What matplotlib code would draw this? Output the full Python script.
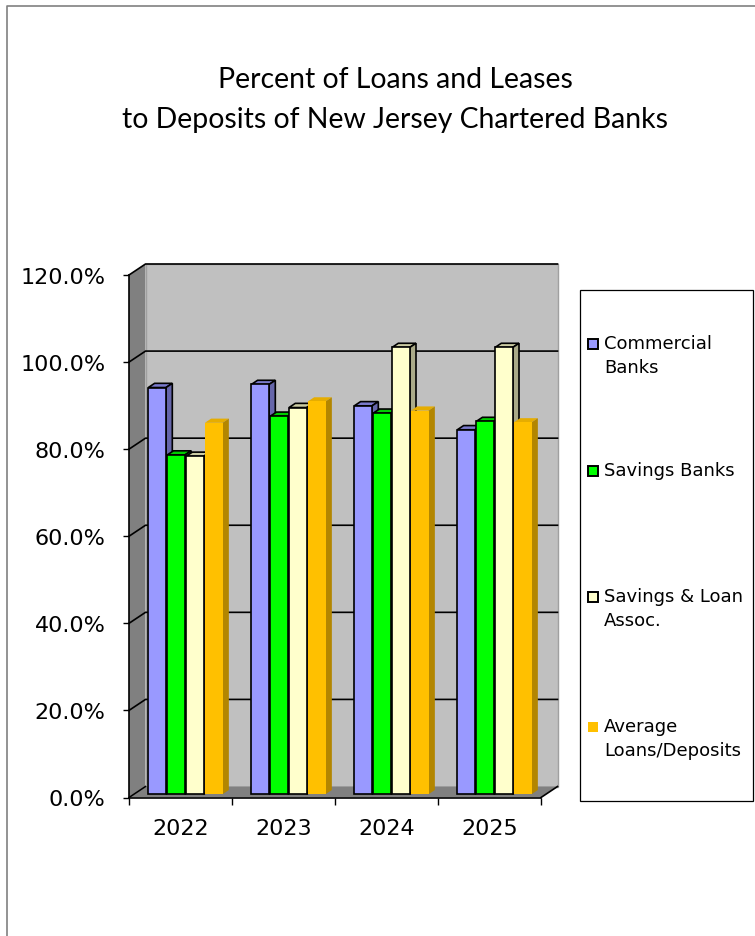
import matplotlib
matplotlib.use("Agg")
import matplotlib.pyplot as plt
from matplotlib.patches import Rectangle, Polygon
from matplotlib.transforms import ScaledTranslation

# data
years = ["2022", "2023", "2024", "2025"]
series = ["Commercial\nBanks", "Savings Banks", "Savings & Loan\nAssoc.", "Average\nLoans/Deposits"]
commercial = [93.4, 94.1, 89.2, 83.7]
savings = [77.9, 86.8, 87.5, 85.6]
sl_assoc = [77.6, 88.8, 102.6, 102.6]
average = [85.3, 90.2, 88.1, 85.4]
values = [commercial, savings, sl_assoc, average]

face = ["#9999FF", "#00FF00", "#FFFFCC", "#FFC000"]
topc = ["#7A7ACC", "#00CC00", "#CCCCA3", "#E6AD00"]
sidec = ["#6666AA", "#00AA00", "#AAAA88", "#B38600"]
edges = ["black", "black", "black", "none"]

W, H = 755, 937
fig = plt.figure(figsize=(W / 100, H / 100), dpi=100)
fig.patch.set_facecolor("white")

# pixel overlay for frame, title, legend
bg = fig.add_axes([0, 0, 1, 1])
bg.set_xlim(0, W)
bg.set_ylim(H, 0)
bg.axis("off")
bg.plot([7, 7, W + 5], [H + 5, 7, 7], color="#808080", lw=1.2, clip_on=False)

bg.text(395, 80, "Percent of Loans and Leases", family="Lato", fontsize=20.4,
        ha="center", va="center")
bg.text(395, 120, "to Deposits of New Jersey Chartered Banks", family="Lato",
        fontsize=20.4, ha="center", va="center")

# legend box
bg.add_patch(Rectangle((580, 291), 173, 511, fill=False, ec="black", lw=0.9))
leg_y = [345, 472, 598, 728]
for i, lab in enumerate(series):
    bg.add_patch(Rectangle((588, leg_y[i] - 5), 10, 10, fc=face[i],
                           ec=edges[i], lw=1.4))
    bg.text(604, leg_y[i] - 10, lab, fontsize=13, ha="left", va="top",
            linespacing=1.4)

# front plane of the 3d chart
left, right, y0, y120 = 129, 541, 798.5, 276
ax = fig.add_axes([left / W, (H - y0) / H, (right - left) / W, (y0 - y120) / H])
ax.set_xlim(-0.5, 3.5)
ax.set_ylim(0, 120)
ax.set_facecolor("none")
for s in ["top", "right"]:
    ax.spines[s].set_visible(False)
for s in ["left", "bottom"]:
    ax.spines[s].set_linewidth(1.2)
    ax.spines[s].set_zorder(20)

ux = 4 / (right - left)
uy = 120 / (y0 - y120)
dxd = 16.5 * ux
dyd = 11 * uy

# walls and floor
ax.add_patch(Rectangle((-0.5 + dxd, dyd), 4, 120, fc="#C0C0C0", ec="#A0A0A0",
                       lw=1, zorder=1, clip_on=False))
ax.add_patch(Polygon([(-0.5, 0), (-0.5 + dxd, dyd), (-0.5 + dxd, 120 + dyd), (-0.5, 120)],
                     closed=True, fc="#808080", ec="none", zorder=1.1, clip_on=False))
ax.add_patch(Polygon([(-0.5, 0), (3.5, 0), (3.5 + dxd, dyd), (-0.5 + dxd, dyd)],
                     closed=True, fc="#808080", ec="none", zorder=1.1, clip_on=False))
ax.plot([3.5, 3.5 + dxd], [0, dyd], color="black", lw=1.2, zorder=1.6, clip_on=False)

for v in range(0, 121, 20):
    if v == 0:
        ax.plot([-0.5, -0.5 + dxd], [v, v + dyd], color="black", lw=1.1,
                zorder=1.5, clip_on=False)
    else:
        ax.plot([-0.5, -0.5 + dxd, 3.5 + dxd], [v, v + dyd, v + dyd],
                color="black", lw=1.2, zorder=1.5, clip_on=False)

# bars
f_front, depth = 0.3, 0.38
shift = ScaledTranslation(f_front * 16.5 / 100, f_front * 11 / 100, fig.dpi_scale_trans)
tr = ax.transData + shift
bw = 0.172
step = 0.183
bdx, bdy = depth * dxd, depth * dyd
for i, vals in enumerate(values):
    xs = [k + (i - 1.5) * step for k in range(len(years))]
    ax.bar(xs, vals, bw, color=face[i], edgecolor=edges[i], lw=1.2,
           transform=tr, zorder=3 + i, clip_on=False)
    for x, v in zip(xs, vals):
        x0, x1 = x - bw / 2, x + bw / 2
        ax.add_patch(Polygon([(x0, v), (x1, v), (x1 + bdx, v + bdy), (x0 + bdx, v + bdy)],
                             closed=True, fc=topc[i], ec=edges[i], lw=1.2,
                             transform=tr, zorder=2.5 + i, clip_on=False))
        ax.add_patch(Polygon([(x1, 0), (x1 + bdx, bdy), (x1 + bdx, v + bdy), (x1, v)],
                             closed=True, fc=sidec[i], ec=edges[i], lw=1.2,
                             transform=tr, zorder=2.5 + i, clip_on=False))

# axes ticks
ax.set_yticks(range(0, 121, 20))
ax.set_yticklabels(["%.1f%%" % v for v in range(0, 121, 20)], fontsize=16)
ax.tick_params(axis="y", length=4, width=1, pad=13)
ax.set_xticks([-0.5, 0.5, 1.5, 2.5, 3.5])
ax.set_xticklabels([])
ax.set_xticks(range(len(years)), minor=True)
ax.set_xticklabels(years, minor=True, fontsize=16)
ax.tick_params(axis="x", which="major", length=5, width=1)
ax.tick_params(axis="x", which="minor", length=0, pad=15)

fig.savefig("out.png", dpi=100)
